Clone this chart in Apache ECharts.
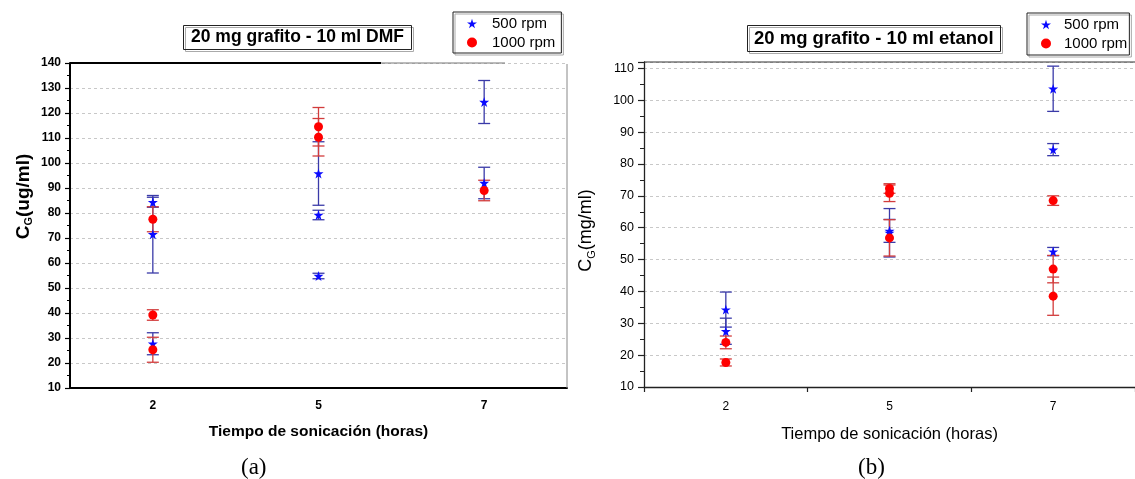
<!DOCTYPE html>
<html><head><meta charset="utf-8">
<script src="https://cdn.jsdelivr.net/npm/echarts@6/dist/echarts.min.js"></script>
<style>html,body{margin:0;padding:0;background:#fff}#c{width:1135px;height:479px}</style>
</head><body><div id="c"></div>
<script>
// Categories (sonication time, hours)
const xCats = ['2', '5', '7'];
const seriesNames = ['500 rpm', '1000 rpm'];
// Panel (a): 20 mg grafito - 10 ml DMF
const dmf500X = ['2', '2', '2', '5', '5', '5', '7', '7'];
const dmf500Y = [84.3, 71.5, 27.7, 95.8, 79.2, 54.8, 124.4, 92.0];
const dmf500E = [2.0, 15.5, 4.4, 12.7, 1.9, 1.1, 8.6, 6.3];
const dmf1000X = ['2', '2', '2', '5', '5', '7'];
const dmf1000Y = [77.5, 39.2, 25.3, 114.5, 110.3, 89.0];
const dmf1000E = [5.0, 2.1, 5.0, 7.7, 7.5, 4.1];
// Panel (b): 20 mg grafito - 10 ml etanol
const eta500X = ['2', '2', '5', '5', '7', '7', '7'];
const eta500Y = [34.3, 27.5, 59.0, 58.4, 103.6, 84.5, 52.5];
const eta500E = [5.5, 4.1, 3.6, 7.6, 7.1, 1.9, 1.3];
const eta1000X = ['2', '2', '5', '5', '5', '7', '7', '7'];
const eta1000Y = [24.0, 17.7, 72.3, 70.8, 56.8, 68.5, 47.0, 38.5];
const eta1000E = [2.0, 1.1, 1.5, 2.6, 5.7, 1.5, 4.3, 6.0];

const STAR = 'path://M50,0 L61,35 L98,35 L68,57 L79,91 L50,70 L21,91 L32,57 L2,35 L39,35 Z';
const FONT = 'Liberation Sans, Arial, sans-serif';

function pts(xs, ys) { return xs.map((x, i) => [x, ys[i]]); }
function errs(xs, ys, es) { return xs.map((x, i) => [x, ys[i] - es[i], ys[i] + es[i]]); }

function errSeries(data, xi, yi, color) {
  return {
    type: 'custom', xAxisIndex: xi, yAxisIndex: yi, data: data, z: 2, silent: true,
    encode: { x: 0, y: [1, 2] },
    renderItem: function (params, api) {
      const x = api.value(0);
      const lo = api.coord([x, api.value(1)]);
      const hi = api.coord([x, api.value(2)]);
      const hw = 6;
      const st = { stroke: color, lineWidth: 1.3 };
      return { type: 'group', children: [
        { type: 'line', shape: { x1: lo[0], y1: lo[1], x2: hi[0], y2: hi[1] }, style: st },
        { type: 'line', shape: { x1: lo[0] - hw, y1: lo[1], x2: lo[0] + hw, y2: lo[1] }, style: st },
        { type: 'line', shape: { x1: hi[0] - hw, y1: hi[1], x2: hi[0] + hw, y2: hi[1] }, style: st }
      ]};
    }
  };
}
function ptSeries(name, data, xi, yi, symbol, color) {
  return { name: name, type: 'scatter', xAxisIndex: xi, yAxisIndex: yi, data: data, z: 3,
    symbol: symbol, symbolSize: symbol === 'circle' ? 9 : 10, itemStyle: { color: color, opacity: 1 } };
}

const splitDashed = { show: true, lineStyle: { color: '#c8c8c8', type: [3, 3], width: 1 } };
const titleBox = { borderColor: '#222', borderWidth: 1, shadowColor: '#aaa', shadowOffsetX: 2, shadowOffsetY: 2 };

const chart = echarts.init(document.getElementById('c'));
chart.setOption({
  animation: false,
  backgroundColor: '#fff',
  textStyle: { fontFamily: FONT },
  title: [
    Object.assign({ text: '20 mg grafito - 10 ml DMF', left: 183, top: 25, padding: [3, 8, 3, 8],
      textStyle: { fontSize: 17.5, fontWeight: 'bold', color: '#000', fontFamily: FONT, lineHeight: 19 } }, titleBox),
    Object.assign({ text: '20 mg grafito - 10 ml etanol', left: 747, top: 25, padding: [3, 7, 3, 7],
      textStyle: { fontSize: 18.5, fontWeight: 'bold', color: '#000', fontFamily: FONT, lineHeight: 21 } }, titleBox),
    { text: '(a)', left: 236, top: 451, textStyle: { fontSize: 23, fontWeight: 'normal', color: '#000', fontFamily: 'Liberation Serif, Times New Roman, serif' } },
    { text: '(b)', left: 853, top: 451, textStyle: { fontSize: 23, fontWeight: 'normal', color: '#000', fontFamily: 'Liberation Serif, Times New Roman, serif' } }
  ],
  legend: [
    { left: 453, top: 12, orient: 'vertical', data: seriesNames, selectedMode: false,
      borderColor: '#222', borderWidth: 1, padding: [4, 6, 3, 14], itemGap: 4, itemWidth: 10, itemHeight: 10,
      shadowColor: '#aaa', shadowOffsetX: 2, shadowOffsetY: 2,
      textStyle: { fontSize: 15, color: '#000', fontFamily: FONT, padding: [0, 0, 0, 10] } },
    { left: 1027, top: 13, orient: 'vertical', data: seriesNames, selectedMode: false,
      borderColor: '#222', borderWidth: 1, padding: [4, 2, 4, 14], itemGap: 4, itemWidth: 10, itemHeight: 10,
      shadowColor: '#aaa', shadowOffsetX: 2, shadowOffsetY: 2,
      textStyle: { fontSize: 15, color: '#000', fontFamily: FONT, padding: [0, 0, 0, 8] } }
  ],
  grid: [
    { left: 70, top: 63, width: 497, height: 325 },
    { left: 644, top: 62, width: 501, height: 325 }
  ],
  xAxis: [
    { type: 'category', gridIndex: 0, position: 'bottom', data: xCats, boundaryGap: true,
      axisLine: { lineStyle: { color: '#000', width: 2 } },
      axisTick: { alignWithLabel: true, length: 5, lineStyle: { color: '#000', width: 1.2 } },
      axisLabel: { margin: 12, fontSize: 12, fontWeight: 'bold', color: '#000', fontFamily: FONT },
      splitLine: { show: false },
      name: 'Tiempo de sonicación (horas)', nameLocation: 'middle', nameGap: 36,
      nameTextStyle: { fontSize: 15.5, fontWeight: 'bold', color: '#000', fontFamily: FONT } },
    { type: 'category', gridIndex: 1, position: 'bottom', data: xCats, boundaryGap: true,
      axisLine: { lineStyle: { color: '#222', width: 1.3 } },
      axisTick: { alignWithLabel: true, length: 6, lineStyle: { color: '#222', width: 1.2 } },
      axisLabel: { margin: 14, fontSize: 12, color: '#000', fontFamily: FONT },
      splitLine: { show: false },
      name: 'Tiempo de sonicación (horas)', nameLocation: 'middle', nameGap: 39,
      nameTextStyle: { fontSize: 16.5, color: '#000', fontFamily: FONT } },
    { type: 'category', gridIndex: 1, position: 'bottom', offset: 0, data: xCats, boundaryGap: true,
      axisLine: { show: false },
      axisTick: { show: true, alignWithLabel: false, length: 5, lineStyle: { color: '#222', width: 1.2 } },
      axisLabel: { show: false }, splitLine: { show: false } }
  ],
  yAxis: [
    { type: 'value', gridIndex: 0, min: 10, max: 140, interval: 10,
      axisLine: { show: true, lineStyle: { color: '#000', width: 2 } },
      axisTick: { show: true, length: 5, lineStyle: { color: '#000', width: 1.2 } },
      minorTick: { show: true, splitNumber: 2, length: 3, lineStyle: { color: '#000', width: 1 } },
      axisLabel: { margin: 9, fontSize: 12, fontWeight: 'bold', color: '#000', fontFamily: FONT },
      splitLine: splitDashed,
      name: '{m|C}{s|G}{m|(ug/ml)}', nameLocation: 'middle', nameGap: 36,
      nameTextStyle: { padding: [0, 0, 0, 58], rich: {
        m: { fontSize: 19, fontWeight: 'bold', color: '#000', fontFamily: FONT },
        s: { fontSize: 11, fontWeight: 'bold', color: '#000', fontFamily: FONT, padding: [10, 0, 0, 0] } } } },
    { type: 'value', gridIndex: 1, min: 10, max: 112, interval: 10,
      axisLine: { show: true, lineStyle: { color: '#222', width: 1.3 } },
      axisTick: { show: true, length: 6, lineStyle: { color: '#222', width: 1.2 } },
      minorTick: { show: true, splitNumber: 2, length: 4, lineStyle: { color: '#222', width: 1 } },
      axisLabel: { margin: 10, fontSize: 12.5, color: '#000', fontFamily: FONT, showMaxLabel: false },
      splitLine: splitDashed,
      name: '{m|C}{s|G}{m|(mg/ml)}', nameLocation: 'middle', nameGap: 47,
      nameTextStyle: { padding: [0, 12, 0, 0], rich: {
        m: { fontSize: 18, color: '#000', fontFamily: FONT },
        s: { fontSize: 11, color: '#000', fontFamily: FONT, padding: [10, 0, 0, 0] } } } }
  ],
  graphic: [
    { type: 'line', shape: { x1: 70, y1: 63, x2: 381, y2: 63 }, style: { stroke: '#000', lineWidth: 2 }, z: 10 },
    { type: 'line', shape: { x1: 381, y1: 63, x2: 505, y2: 63 }, style: { stroke: '#777', lineWidth: 1 }, z: 10 },
    { type: 'line', shape: { x1: 567, y1: 64, x2: 567, y2: 388 }, style: { stroke: '#888', lineWidth: 1 }, z: 10 },
    { type: 'line', shape: { x1: 644, y1: 62, x2: 1135, y2: 62 }, style: { stroke: '#333', lineWidth: 1.2 }, z: 10 }
  ],
  series: [
    errSeries(errs(dmf500X, dmf500Y, dmf500E), 0, 0, '#3a3aa8'),
    errSeries(errs(dmf1000X, dmf1000Y, dmf1000E), 0, 0, '#d23c3c'),
    ptSeries('500 rpm', pts(dmf500X, dmf500Y), 0, 0, STAR, '#0a0aff'),
    ptSeries('1000 rpm', pts(dmf1000X, dmf1000Y), 0, 0, 'circle', '#ff0000'),
    errSeries(errs(eta500X, eta500Y, eta500E), 1, 1, '#3a3aa8'),
    errSeries(errs(eta1000X, eta1000Y, eta1000E), 1, 1, '#d23c3c'),
    ptSeries('500 rpm', pts(eta500X, eta500Y), 1, 1, STAR, '#0a0aff'),
    ptSeries('1000 rpm', pts(eta1000X, eta1000Y), 1, 1, 'circle', '#ff0000')
  ]
});
</script></body></html>
